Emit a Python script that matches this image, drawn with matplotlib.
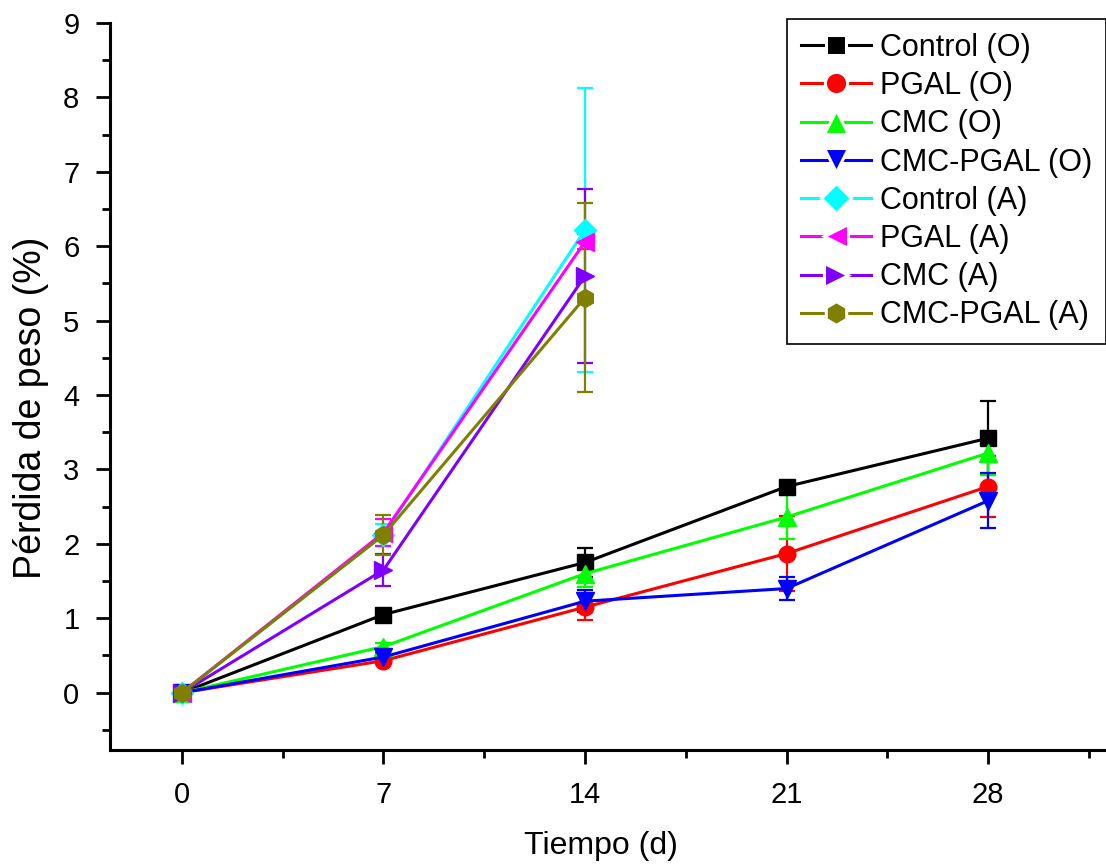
import matplotlib
matplotlib.use("Agg")
import matplotlib.pyplot as plt
from matplotlib.lines import Line2D
from matplotlib.ticker import MultipleLocator

plt.rcParams['font.family'] = ['Liberation Sans', 'DejaVu Sans']

# Tiempo de almacenamiento (d)
days = [0, 7, 14, 21, 28]

# Pérdida de peso (%) y desviación, muestras (O)
control_o = [0, 1.05, 1.75, 2.77, 3.42]
control_o_err = [0, 0.05, 0.20, 0.08, 0.50]
pgal_o = [0, 0.43, 1.15, 1.87, 2.77]
pgal_o_err = [0, 0.05, 0.17, 0.50, 0.41]
cmc_o = [0, 0.62, 1.60, 2.36, 3.22]
cmc_o_err = [0, 0.05, 0.18, 0.30, 0.30]
cmcpgal_o = [0, 0.48, 1.23, 1.40, 2.58]
cmcpgal_o_err = [0, 0.05, 0.15, 0.15, 0.37]

# muestras (A), solo hasta el día 14
days_a = [0, 7, 14]
control_a = [0, 2.12, 6.22]
control_a_err = [0, 0.15, 1.91]
pgal_a = [0, 2.15, 6.06]
pgal_a_err = [0, 0.18, 0.10]
cmc_a = [0, 1.65, 5.60]
cmc_a_err = [0, 0.21, 1.17]
cmcpgal_a = [0, 2.12, 5.31]
cmcpgal_a_err = [0, 0.27, 1.27]

series = [
    (days, control_o, control_o_err, "Control (O)", "#000000", "s", 11),
    (days, pgal_o, pgal_o_err, "PGAL (O)", "#ff0000", "o", 12),
    (days, cmc_o, cmc_o_err, "CMC (O)", "#00ff00", "^", 13),
    (days, cmcpgal_o, cmcpgal_o_err, "CMC-PGAL (O)", "#0000ff", "v", 13),
    (days_a, control_a, control_a_err, "Control (A)", "#00ffff", "D", 11),
    (days_a, pgal_a, pgal_a_err, "PGAL (A)", "#ff00ff", "<", 13),
    (days_a, cmc_a, cmc_a_err, "CMC (A)", "#8000ff", ">", 13),
    (days_a, cmcpgal_a, cmcpgal_a_err, "CMC-PGAL (A)", "#808000", "h", 13),
]

fig = plt.figure(figsize=(11.06, 8.65), dpi=100)
ax = fig.add_axes([110 / 1106, 115 / 865, 1022 / 1106, 727 / 865])

handles = []
for x, y, e, lab, col, mk, ms in series:
    ax.errorbar(x, y, yerr=e, color=col, marker=mk, markersize=ms,
                markeredgecolor=col, linewidth=2.2, elinewidth=1.6,
                capsize=6, capthick=1.6)
    # legend key: line broken around the symbol
    handles.append(Line2D([], [], color=col, marker=mk, markersize=ms + 4,
                          markerfacecolor=col, markeredgecolor="white",
                          markeredgewidth=2.2, linewidth=2.2, label=lab))

ax.set_xlim(-2.5, 33)
ax.set_ylim(-0.77, 9)
ax.xaxis.set_major_locator(MultipleLocator(7))
ax.xaxis.set_minor_locator(MultipleLocator(3.5))
ax.yaxis.set_major_locator(MultipleLocator(1))
ax.yaxis.set_minor_locator(MultipleLocator(0.5))

for side in ("top", "right"):
    ax.spines[side].set_visible(False)
for side in ("left", "bottom"):
    ax.spines[side].set_linewidth(2.2)

ax.tick_params(which="major", direction="out", length=10, width=2, labelsize=21, pad=12)
ax.tick_params(which="minor", direction="out", length=6, width=2)

ax.set_xlabel("Tiempo (d)", fontsize=23)
ax.xaxis.set_label_coords(0.48, -0.112)
ax.set_ylabel("Pérdida de peso (%)", fontsize=27)
ax.yaxis.set_label_coords(-0.06, 0.47)

leg = ax.legend(handles=handles, loc="upper left",
                bbox_to_anchor=((787 - 110) / 1022, (750 - 19) / 727),
                borderaxespad=0, fontsize=22, frameon=True, fancybox=False,
                framealpha=1, edgecolor="black", handlelength=2.3,
                handletextpad=0.3, labelspacing=0.27, borderpad=0.45)
leg.get_frame().set_linewidth(1.2)

fig.savefig("out.png", dpi=100)
